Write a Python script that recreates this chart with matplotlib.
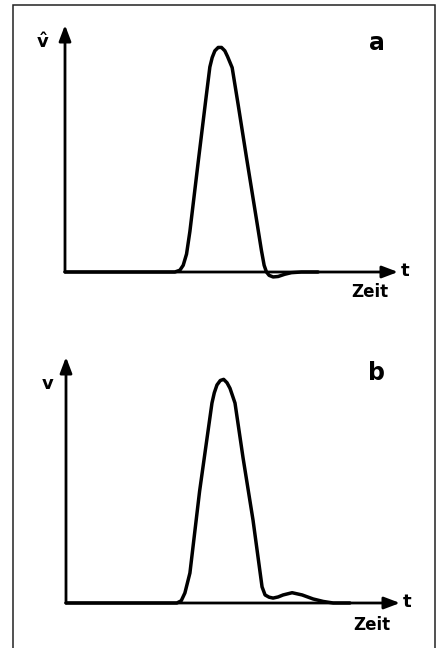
import matplotlib.pyplot as plt
from matplotlib.patches import Rectangle

W, H = 437, 648

# panel a: measured pulse with small undershoot
t_a = [0, 33.0, 34.5, 35.5, 36.5, 37.5, 40.0, 42.3, 43.5, 44.2, 45.0, 46.0, 47.0,
       48.0, 48.8, 49.5, 50.2, 52.0, 54.5, 57.5, 59.0, 59.8, 60.5, 61.3, 62.5, 64.0,
       66.0, 68.0, 71.0, 76.0]
v_a = [0, 0, 0.008, 0.03, 0.08, 0.18, 0.49, 0.77, 0.913, 0.955, 0.985, 1.0, 1.0,
       0.985, 0.96, 0.935, 0.91, 0.745, 0.51, 0.234, 0.095, 0.03, 0.0, -0.015, -0.022, -0.02,
       -0.01, -0.003, 0, 0]

# panel b: pulse with small trailing bump
t_b = [0, 33.2, 34.5, 35.6, 37.1, 40.0, 43.7, 44.4, 45.2, 46.2, 47.2, 48.2, 49.1,
       49.9, 50.6, 53.0, 56.0, 58.7, 59.6, 60.8, 62.0, 63.5, 65.0, 67.7, 70.7, 74.0,
       77.0, 80.0, 85.0]
v_b = [0, 0, 0.01, 0.045, 0.134, 0.50, 0.894, 0.94, 0.975, 0.995, 1.0, 0.985, 0.96,
       0.925, 0.894, 0.65, 0.37, 0.072, 0.036, 0.026, 0.022, 0.027, 0.036, 0.046, 0.036, 0.018,
       0.007, 0.0, 0]

panels = [
    dict(t=t_a, v=v_a, x0=65, x1=398, base=272, top=25, ylab=r'$\mathbf{\hat{v}}$',
         ylab_pos=(-6.6, 1.025), tag='a', tag_pos=(93.7, 1.02), zeit_v=-0.09),
    dict(t=t_b, v=v_b, x0=66, x1=400, base=603, top=357, ylab=r'$\mathbf{v}$',
         ylab_pos=(-5.4, 0.98), tag='b', tag_pos=(93.0, 1.03), zeit_v=-0.098),
]

fig = plt.figure(figsize=(W / 100, H / 100), dpi=100)
fig.patch.set_facecolor('white')
fig.patches.append(Rectangle((13 / W, -0.02), (435 - 13) / W, (H - 5) / H + 0.02,
                             transform=fig.transFigure, fill=False, lw=1.1, color='#222222'))

for p in panels:
    ax = fig.add_axes([p['x0'] / W, (H - p['base']) / H,
                       (p['x1'] - p['x0']) / W, (p['base'] - p['top']) / H])
    ax.set_xlim(0, 100)
    ax.set_ylim(0, 1.1)
    ax.axis('off')

    arrow = dict(arrowstyle='-|>,head_length=0.95,head_width=0.36', lw=2, color='black',
                 mutation_scale=10, shrinkA=0, shrinkB=0)
    ax.annotate('', xy=(0, 1.1), xytext=(0, 0), arrowprops=arrow, annotation_clip=False)
    ax.annotate('', xy=(100, 0), xytext=(0, 0), arrowprops=arrow, annotation_clip=False)

    ax.plot(p['t'], p['v'], color='black', lw=2.5, clip_on=False,
            solid_joinstyle='round', solid_capstyle='round')

    ax.text(102.2, 0.005, 't', fontsize=13, fontweight='bold', ha='center', va='center')
    ax.text(91.5, p['zeit_v'], 'Zeit', fontsize=12, fontweight='bold', ha='center', va='center')
    ax.text(*p['tag_pos'], p['tag'], fontsize=17, fontweight='bold', ha='center', va='center')
    ax.text(*p['ylab_pos'], p['ylab'], fontsize=13, ha='center', va='center')

fig.savefig('out.png', dpi=100)
